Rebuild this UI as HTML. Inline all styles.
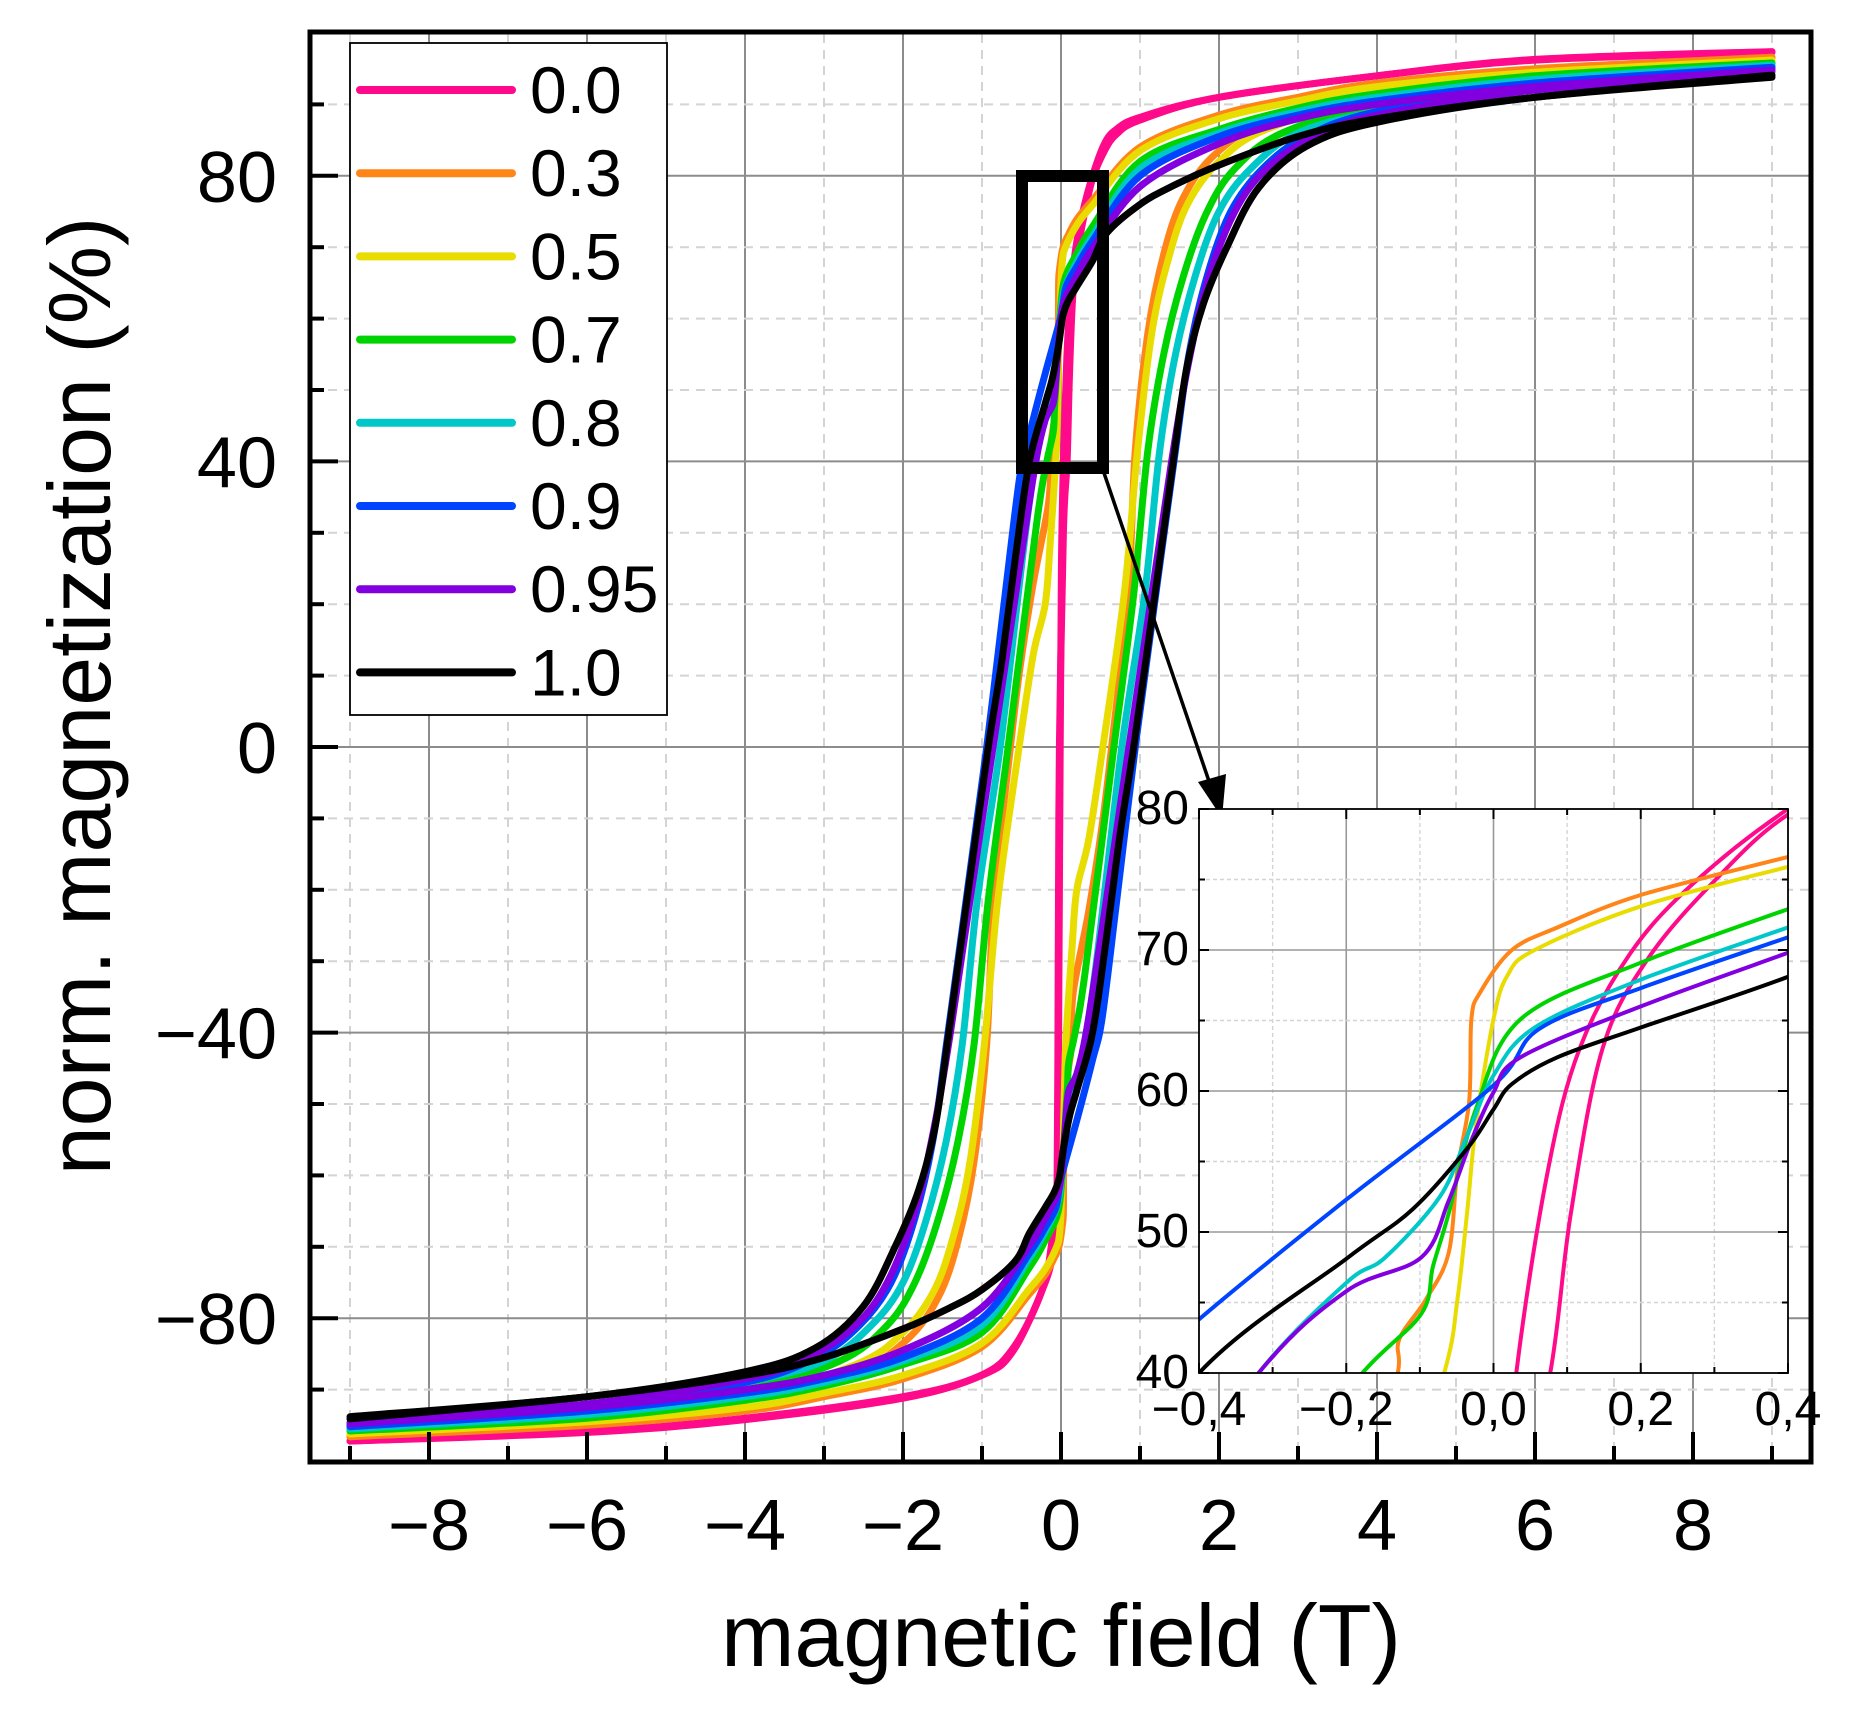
<!DOCTYPE html>
<html><head><meta charset="utf-8">
<style>
html,body{margin:0;padding:0;background:#fff;width:1859px;height:1731px;overflow:hidden;position:relative;}
svg{display:block;position:absolute;left:0;top:0;overflow:hidden;}
text{font-family:"Liberation Sans",Arial,sans-serif;fill:#000;}
</style></head>
<body>
<svg id="s" width="1859" height="1731" viewBox="0 0 1859 1731" xmlns="http://www.w3.org/2000/svg">
<defs>
<clipPath id="mc"><rect x="312" y="34" width="1497" height="1426"/></clipPath>
<clipPath id="ic"><rect x="1199" y="809" width="589" height="564"/></clipPath>
</defs>
<g id="maingrid"></g>
<g id="maincurves" clip-path="url(#mc)"></g>
<g id="mainticks"></g>
<rect x="310" y="32" width="1501" height="1430" fill="none" stroke="#000" stroke-width="5"/>
<g id="legend"></g>
<rect x="1022" y="176" width="81" height="292" fill="none" stroke="#000" stroke-width="12"/>
<line x1="1103" y1="470" x2="1212" y2="790" stroke="#000" stroke-width="3.5"/>
<polygon points="1222,818 1198,782 1226,774" fill="#000"/>
<rect x="1199" y="809" width="589" height="564" fill="#fff"/>
<g id="insetgrid"></g>
<g id="insetcurves" clip-path="url(#ic)"></g>
<rect x="1199" y="809" width="589" height="564" fill="none" stroke="#000" stroke-width="1.8"/>
<g id="insetticks"></g>
<text x="1061" y="1666" font-size="88" text-anchor="middle">magnetic field (T)</text>
<text transform="translate(110,696) rotate(-90)" font-size="88" text-anchor="middle">norm. magnetization (%)</text>
</svg>
<script>
(function(){
const NS="http://www.w3.org/2000/svg";
function el(parent,tag,attrs,txt){const e=document.createElementNS(NS,tag);for(const k in attrs)e.setAttribute(k,attrs[k]);if(txt!==undefined)e.textContent=txt;document.getElementById(parent).appendChild(e);return e;}
const X=x=>1061+79*x, Y=y=>747-7.14*y;
const IX=x=>1199+(x+0.4)*736.25, IY=y=>1373-(y-40)*14.1;
for(let v=-9;v<=9;v++){
  const odd=Math.abs(v)%2===1;
  el("maingrid","line",{x1:X(v),x2:X(v),y1:34,y2:1460,stroke:odd?"#d4d4d4":"#8c8c8c","stroke-width":2,"stroke-dasharray":odd?"9 7":"none"});
}
for(let v=-100;v<=100;v+=10){
  const yy=Y(v); if(yy<34||yy>1460)continue;
  const maj=v%40===0;
  el("maingrid","line",{x1:312,x2:1809,y1:yy,y2:yy,stroke:maj?"#8c8c8c":"#d4d4d4","stroke-width":2,"stroke-dasharray":maj?"none":"9 7"});
}
for(let v=-9;v<=9;v++){
  const maj=v%2===0;
  el("mainticks","line",{x1:X(v),x2:X(v),y1:1462,y2:maj?1432:1446,stroke:"#000","stroke-width":4});
  if(maj) el("mainticks","text",{x:X(v),y:1550,"font-size":72,"text-anchor":"middle"},(v<0?"\u2212":"")+Math.abs(v));
}
for(let v=-100;v<=100;v+=10){
  const yy=Y(v); if(yy<34||yy>1460)continue;
  const maj=v%40===0;
  el("mainticks","line",{x1:310,x2:maj?338:324,y1:yy,y2:yy,stroke:"#000","stroke-width":4});
  if(maj) el("mainticks","text",{x:277,y:yy+26,"font-size":72,"text-anchor":"end"},(v<0?"\u2212":"")+Math.abs(v));
}
const S=[
 {n:"0.0",c:"#ff0a8a"},{n:"0.3",c:"#ff8518"},{n:"0.5",c:"#e8dc00"},{n:"0.7",c:"#00d400"},
 {n:"0.8",c:"#00c8c8"},{n:"0.9",c:"#0044ff"},{n:"0.95",c:"#8200e0"},{n:"1.0",c:"#000000"}];
S[0].d=[[9,97.4],[6,96.3],[4,94],[2,91],[1,88.2],[0.7,86.5],[0.55,84.5],[0.4,80],[0.271,74.7],[0.185,69.7],[0.117,63],[0.074,54.4],[0.031,40],[0.005,25],[-0.01,0],[-0.03,-40],[-0.045,-62],[-0.1,-70],[-0.2,-75],[-0.6,-84.5],[-1,-88],[-2,-91.2],[-4,-94.2],[-6,-96],[-9,-97.2]];
S[0].a=[[-9,-97.2],[-6,-95.9],[-4,-94],[-2,-91],[-1.03,-88.1],[-0.6,-84.1],[-0.23,-75.8],[-0.1,-68],[-0.05,-63],[-0.035,-30],[-0.02,0],[0.03,30],[0.077,40],[0.105,51.3],[0.148,63],[0.21,69.4],[0.302,75],[0.4,79.6],[0.55,83.5],[0.7,85.8],[1,87.8],[2,91],[4,94],[6,96.2],[9,97.3]];
S[1].d=[[9,96.6],[6,95],[4,93],[3,91],[2,88.5],[1,84],[0.4,76.6],[0.2,73.9],[0.087,71.6],[0.025,70],[-0.018,67],[-0.03,65.1],[-0.033,59.3],[-0.049,54.4],[-0.061,48.5],[-0.092,45.2],[-0.128,42.4],[-0.13,40],[-0.16,34],[-0.35,23],[-0.52,11],[-0.64,0],[-0.85,-21.4],[-0.94,-41.6],[-1.1,-58],[-1.3,-69],[-1.55,-77],[-1.95,-83],[-2.6,-87.5],[-4,-91.5],[-6,-94.5],[-9,-96.6]];
S[2].d=[[9,96.2],[6,94.5],[4,92.5],[3,90.5],[2,88],[1,83.5],[0.4,75.9],[0.2,73.1],[0.056,70],[0.019,68.2],[0,65.1],[-0.024,57.5],[-0.036,51.3],[-0.049,45.2],[-0.067,40],[-0.14,28],[-0.2,20],[-0.35,13],[-0.53,0],[-0.8,-21.4],[-0.97,-41.6],[-1.15,-58],[-1.35,-68],[-1.6,-76],[-2,-82],[-2.6,-86.5],[-4,-91],[-6,-94],[-9,-96.2]];
S[3].d=[[9,95.8],[6,94],[4,91.5],[3,89.5],[2,86.5],[1,82],[0.4,72.9],[0.2,69.1],[0.037,65.1],[-0.024,58.7],[-0.061,51.3],[-0.082,47.6],[-0.098,44.2],[-0.178,40],[-0.3,32],[-0.67,0],[-0.92,-21.4],[-1.1,-41.6],[-1.3,-55],[-1.55,-66],[-1.85,-75],[-2.2,-81],[-2.8,-86],[-4,-90],[-6,-93],[-9,-95.7]];
S[4].d=[[9,95.5],[6,93.5],[4,91],[3,89],[2,86],[1,81],[0.4,71.6],[0.2,67.9],[0.056,64.5],[0,61.1],[-0.036,56.8],[-0.073,52.5],[-0.147,48.2],[-0.2,46.4],[-0.319,40],[-0.45,30],[-0.77,0],[-1.06,-21.4],[-1.25,-41.6],[-1.45,-55],[-1.7,-66],[-2.0,-75],[-2.4,-81],[-3,-86],[-4,-89],[-6,-92.5],[-9,-95.3]];
S[5].d=[[9,95.2],[6,93],[4,90.5],[3,88.5],[2,85.5],[1,80],[0.4,70.9],[0.2,67.3],[0.062,64.4],[0,60.4],[-0.2,52.3],[-0.4,43.8],[-0.52,38],[-0.7,22],[-0.94,0],[-1.2,-21.4],[-1.45,-41.6],[-1.62,-55],[-1.85,-66],[-2.15,-75],[-2.55,-81],[-3.1,-85.5],[-4,-89],[-6,-92.5],[-9,-95]];
S[6].d=[[9,94.8],[6,92.5],[4,90],[3,88],[2,84.5],[1,78.5],[0.4,69.8],[0.2,66],[0.037,62.4],[0,59.9],[-0.03,56.5],[-0.061,52.2],[-0.098,48.2],[-0.2,45.8],[-0.319,40],[-0.5,27],[-0.86,0],[-1.15,-21.4],[-1.4,-40],[-1.6,-53],[-1.85,-65],[-2.2,-75],[-2.6,-81],[-3.2,-85.5],[-4,-88.5],[-6,-92],[-9,-94.6]];
S[7].d=[[9,94.1],[6,91],[4,88],[3,85.5],[2,81.5],[1.4,78.5],[1,76],[0.58,72],[0.4,68.1],[0.2,64.5],[0.087,62.4],[0.025,60.5],[0,58.7],[-0.036,55.9],[-0.11,51.6],[-0.2,48.1],[-0.4,40],[-0.56,28],[-0.75,12],[-0.92,0],[-1.19,-21.4],[-1.42,-40],[-1.59,-53],[-1.8,-62],[-2.1,-70],[-2.5,-78.3],[-3.1,-84.1],[-4,-87.5],[-6,-91],[-9,-93.8]];
for(let i=1;i<8;i++){S[i].a=S[i].d.map(p=>[-p[0],-p[1]]).reverse();}
function path(pts){
  let d="M"+pts[0][0].toFixed(1)+","+pts[0][1].toFixed(1);
  for(let i=0;i<pts.length-1;i++){
    const p0=pts[Math.max(0,i-1)],p1=pts[i],p2=pts[i+1],p3=pts[Math.min(pts.length-1,i+2)];
    const c1=[p1[0]+(p2[0]-p0[0])/6,p1[1]+(p2[1]-p0[1])/6];
    const c2=[p2[0]-(p3[0]-p1[0])/6,p2[1]-(p3[1]-p1[1])/6];
    d+="C"+c1[0].toFixed(1)+","+c1[1].toFixed(1)+" "+c2[0].toFixed(1)+","+c2[1].toFixed(1)+" "+p2[0].toFixed(1)+","+p2[1].toFixed(1);
  }
  return d;
}
S.forEach(s=>{
  [s.d,s.a].forEach(b=>{
    el("maincurves","path",{d:path(b.map(p=>[X(p[0]),Y(p[1])])),fill:"none",stroke:s.c,"stroke-width":7,"stroke-linejoin":"round","stroke-linecap":"round"});
  });
});
for(let k=-4;k<=4;k++){
  const x=k/10, xx=IX(x), maj=k%2===0;
  if(k>-4&&k<4) el("insetgrid","line",{x1:xx,x2:xx,y1:809,y2:1373,stroke:maj?"#999":"#d4d4d4","stroke-width":maj?1.6:1.4,"stroke-dasharray":maj?"none":"4 3"});
}
for(let v=45;v<80;v+=5){
  const yy=IY(v), maj=v%10===0;
  el("insetgrid","line",{x1:1199,x2:1788,y1:yy,y2:yy,stroke:maj?"#999":"#d4d4d4","stroke-width":maj?1.6:1.4,"stroke-dasharray":maj?"none":"4 3"});
}
S.forEach(s=>{
  const bs = s.n==="0.0"?[s.d,s.a]:[s.d];
  bs.forEach(b=>{
    const pts=b.filter(p=>p[0]>-0.7&&p[0]<0.7);
    el("insetcurves","path",{d:path(pts.map(p=>[IX(p[0]),IY(p[1])])),fill:"none",stroke:s.c,"stroke-width":4,"stroke-linejoin":"round"});
  });
});
for(let k=-4;k<=4;k++){
  const xx=IX(k/10), maj=k%2===0, L=maj?10:6;
  el("insetticks","line",{x1:xx,x2:xx,y1:1373,y2:1373-L,stroke:"#000","stroke-width":2});
  el("insetticks","line",{x1:xx,x2:xx,y1:809,y2:809+L,stroke:"#000","stroke-width":2});
  if(maj){const lab=(k<0?"\u2212":"")+"0,"+Math.abs(k);
    el("insetticks","text",{x:xx,y:1425,"font-size":48,"text-anchor":"middle"},lab);}
}
for(let v=40;v<=80;v+=5){
  const yy=IY(v), maj=v%10===0, L=maj?10:6;
  el("insetticks","line",{x1:1199,x2:1199+L,y1:yy,y2:yy,stroke:"#000","stroke-width":2});
  el("insetticks","line",{x1:1788,x2:1788-L,y1:yy,y2:yy,stroke:"#000","stroke-width":2});
  if(maj) el("insetticks","text",{x:1189,y:yy+15,"font-size":48,"text-anchor":"end"},String(v));
}
el("legend","rect",{x:350,y:43,width:317,height:672,fill:"#fff",stroke:"#000","stroke-width":1.8});
S.forEach((s,i)=>{
  const yy=90+i*83.2;
  el("legend","line",{x1:360,x2:512,y1:yy,y2:yy,stroke:s.c,"stroke-width":8,"stroke-linecap":"round"});
  el("legend","text",{x:530,y:yy+23,"font-size":66},s.n);
});
})();
</script>
</body></html>
